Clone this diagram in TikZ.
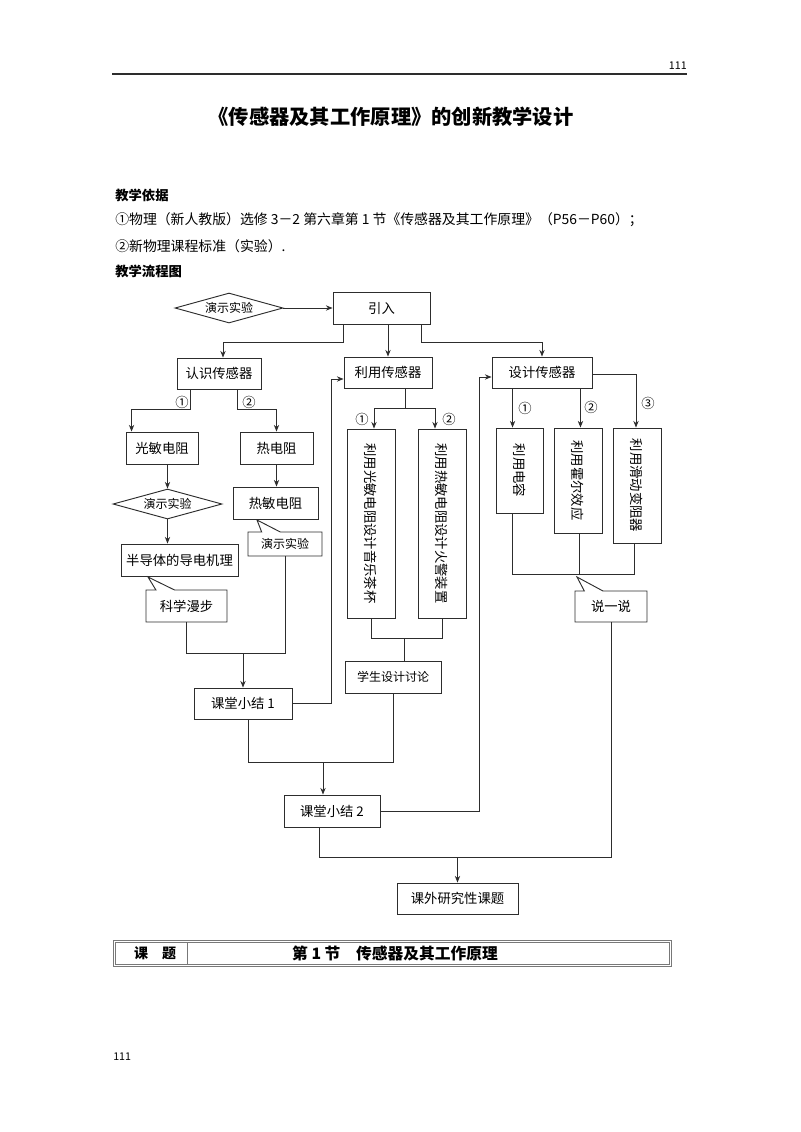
\documentclass[tikz,border=0pt]{standalone}
\usepackage{fontspec}
\setmainfont{Noto Sans CJK SC}
\usepackage{graphicx}
\usetikzlibrary{arrows.meta,calc,shapes.geometric,shapes.callouts}
\definecolor{lineGray}{RGB}{45,45,45}
\definecolor{tableGray}{RGB}{120,120,120}

\begin{document}
\begin{tikzpicture}[x=0.75pt,y=-0.75pt,
    box/.style={draw=lineGray,line width=0.7pt,rectangle,inner sep=1pt,font=\fontsize{10}{12}\selectfont},
    dia/.style={draw=lineGray,line width=0.7pt,diamond,aspect=3.6,inner sep=0pt,font=\fontsize{9}{11}\selectfont},
    talk/.style={draw=lineGray,line width=0.7pt,rectangle callout,callout pointer width=14pt,fill=white,inner sep=1pt,font=\fontsize{10}{12}\selectfont},
    arr/.style={draw=lineGray,line width=0.7pt,-{Stealth[length=5pt,width=4pt]}},
    lnk/.style={draw=lineGray,line width=0.7pt},
    num/.style={inner sep=0pt,font=\fontsize{10}{12}\selectfont}]
\useasboundingbox (0,0) rectangle (800,1132);

% Header
\node[anchor=east,inner sep=0pt,font=\fontsize{8}{10}\selectfont] (pgtop) at (687,66) {111};
\draw[lnk,line width=1.1pt] (112,74) -- (687,74);
\node[font=\fontsize{15.2}{18}\selectfont\bfseries] (title) at (391,117) {《传感器及其工作原理》的创新教学设计};

% Basis
\node[anchor=west,inner sep=0pt,font=\fontsize{10}{12}\selectfont\bfseries] (basis) at (115,195) {教学依据};
\node[anchor=west,inner sep=0pt,font=\fontsize{10.4}{12}\selectfont] (ref1) at (115,220) {①物理（新人教版）选修 3－2 第六章第 1 节《传感器及其工作原理》（P56－P60）；};
\node[anchor=west,inner sep=0pt,font=\fontsize{10.4}{12}\selectfont] (ref2) at (115,246) {②新物理课程标准（实验）.};
\node[anchor=west,inner sep=0pt,font=\fontsize{10}{12}\selectfont\bfseries] (flow) at (115,271) {教学流程图};

% Top row
\node[dia,minimum width=81pt,minimum height=22.5pt] (demoA) at (229,308) {演示实验};
\node[box,minimum width=72.75pt,minimum height=24pt] (intro) at (381.5,308) {引入};
\draw[arr] (demoA) -- (intro);

% Three routes
\node[box,minimum width=63pt,minimum height=23.25pt] (know) at (219,373.5) {认识传感器};
\node[box,minimum width=66pt,minimum height=23.25pt] (use) at (388,372.5) {利用传感器};
\node[box,minimum width=75pt,minimum height=23.25pt] (design) at (542,372.5) {设计传感器};
\draw[arr] ($(intro.south west)+(11,0)$) -- ++(0,18) -| ($(know.north)+(4,0)$);
\draw[arr] (intro.south -| use.north) -- (use.north);
\draw[arr] ($(intro.south east)+(-9,0)$) -- ++(0,18) -| (design);

% Knowing sensors
\node[box,minimum width=54pt,minimum height=24pt] (photo) at (162,448) {光敏电阻};
\node[box,minimum width=54.75pt,minimum height=24pt] (heatR) at (276.5,448) {热电阻};
\draw[arr] ($(know.south west)+(14,0)$) -- ++(0,20) -| ($(photo.north west)+(6,0)$);
\draw[arr] ($(know.south east)+(-24,0)$) -- ++(0,20) -| (heatR);
\node[num] (n1a) at (182,402) {①};
\node[num] (n2a) at (249,402) {②};

\node[dia,minimum width=81.75pt,minimum height=22.5pt] (demoB) at (167.5,504) {演示实验};
\node[box,minimum width=87.75pt,minimum height=24pt] (semi) at (179.5,560) {半导体的导电机理};
\node[talk,minimum width=60.75pt,minimum height=24pt,callout absolute pointer={(148,577)}] (walk) at (186.5,606) {科学漫步};
\draw[arr] (photo.south -| demoB.north) -- (demoB.north);
\draw[arr] (demoB.south) -- (demoB.south |- semi.north);

\node[box,minimum width=63.75pt,minimum height=24pt] (thermR) at (275.5,503) {热敏电阻};
\node[talk,minimum width=55.5pt,minimum height=18pt,font=\fontsize{9}{11}\selectfont,callout absolute pointer={(257,520)}] (demoC) at (285,544) {演示实验};
\draw[arr] (heatR.south) -- (heatR.south |- thermR.north);

% First summary
\node[box,minimum width=73.5pt,minimum height=23.25pt] (sum1) at (243,703.5) {课堂小结 1};
\draw[lnk] (walk.south) -- ++(0,31) coordinate (j1) -| (demoC.south);
\draw[arr] (j1 -| sum1.north) -- (sum1.north);
\draw[arr] (sum1.east) -- ++(39,0) |- ($(use.west)+(0,6.5)$);

% Using sensors
\node[box,minimum width=36pt,minimum height=141.75pt] (cup) at (371,523.5) {\rotatebox{-90}{利用光敏电阻设计音乐茶杯}};
\node[box,minimum width=36pt,minimum height=141.75pt] (alarm) at (442,523.5) {\rotatebox{-90}{利用热敏电阻设计火警装置}};
\draw[lnk] ($(use.south east)+(-27,0)$) -- ++(0,20) coordinate (j2);
\draw[arr] (j2) -| ($(cup.north)+(3,0)$);
\draw[arr] (j2) -| ($(alarm.north)+(-7,0)$);
\node[num] (n1b) at (362,419) {①};
\node[num] (n2b) at (449,419) {②};

\node[box,minimum width=72pt,minimum height=24pt,font=\fontsize{9}{11}\selectfont] (discuss) at (393,677) {学生设计讨论};
\draw[lnk] (cup.south) -- ++(0,20) coordinate (j3) -| (alarm.south);
\coordinate (d1) at ($(discuss.north east)+(-37,0)$);
\draw[lnk] (j3 -| d1) -- (d1);

% Second summary
\node[box,minimum width=72pt,minimum height=24pt] (sum2) at (332,811) {课堂小结 2};
\draw[lnk] ($(sum1.south)+(5,0)$) -- ++(0,43) coordinate (j4) -| (discuss.south);
\coordinate (d2) at ($(sum2.north)+(-9,0)$);
\draw[arr] (j4 -| d2) -- (d2);
\draw[arr] (sum2.east) -- ++(99,0) |- ($(design.west)+(0,4.5)$);

% Designing sensors
\node[box,minimum width=35.25pt,minimum height=63.75pt] (cap) at (519.5,470.5) {\rotatebox{-90}{利用电容}};
\node[box,minimum width=36pt,minimum height=78.75pt] (hall) at (578,480.5) {\rotatebox{-90}{利用霍尔效应}};
\node[box,minimum width=36pt,minimum height=86.25pt] (rheo) at (637,485.5) {\rotatebox{-90}{利用滑动变阻器}};
\draw[arr] ($(design.south west)+(21,0)$) coordinate (d3) -- (d3 |- cap.north);
\draw[arr] ($(design.south east)+(-12,0)$) coordinate (d4) -- (d4 |- hall.north);
\draw[arr] ($(design.east)+(0,1.5)$) -| ($(rheo.north)+(-1,0)$);
\node[num] (n1c) at (525,408) {①};
\node[num] (n2c) at (591,407) {②};
\node[num] (n3c) at (648,403) {③};

\coordinate (j5) at ($(hall.south)+(1,41)$);
\draw[lnk] (d3 |- cap.south) |- (j5) -| ($(rheo.south)+(-3,0)$);
\draw[lnk] (j5 |- hall.south) -- (j5);
\node[talk,minimum width=54pt,minimum height=23.25pt,callout absolute pointer={(577,577)}] (say) at (611,606.5) {说一说};

% Final topic
\node[box,minimum width=90.75pt,minimum height=23.25pt] (research) at (457.5,898.5) {课外研究性课题};
\coordinate (j6) at ($(research.north)+(0,-25)$);
\draw[lnk] (say.south) |- (j6) -| ($(sum2.south)+(-13,0)$);
\draw[arr] (j6) -- (research.north);

% Table
\draw[tableGray,line width=0.6pt] (113,940) rectangle (671,966);
\draw[tableGray,line width=0.6pt] (115,942) rectangle (669,964);
\draw[tableGray,line width=0.6pt] (187,942) -- (187,964);
\node[font=\fontsize{10.5}{12}\selectfont\bfseries] (ktitle) at (155,953) {课\quad 题};
\node[font=\fontsize{11.8}{14}\selectfont\bfseries] (kname) at (395,953) {第 1 节\quad 传感器及其工作原理};

% Footer
\node[anchor=west,inner sep=0pt,font=\fontsize{8}{10}\selectfont] (pgbot) at (113,1057) {111};
\end{tikzpicture}
\end{document}
